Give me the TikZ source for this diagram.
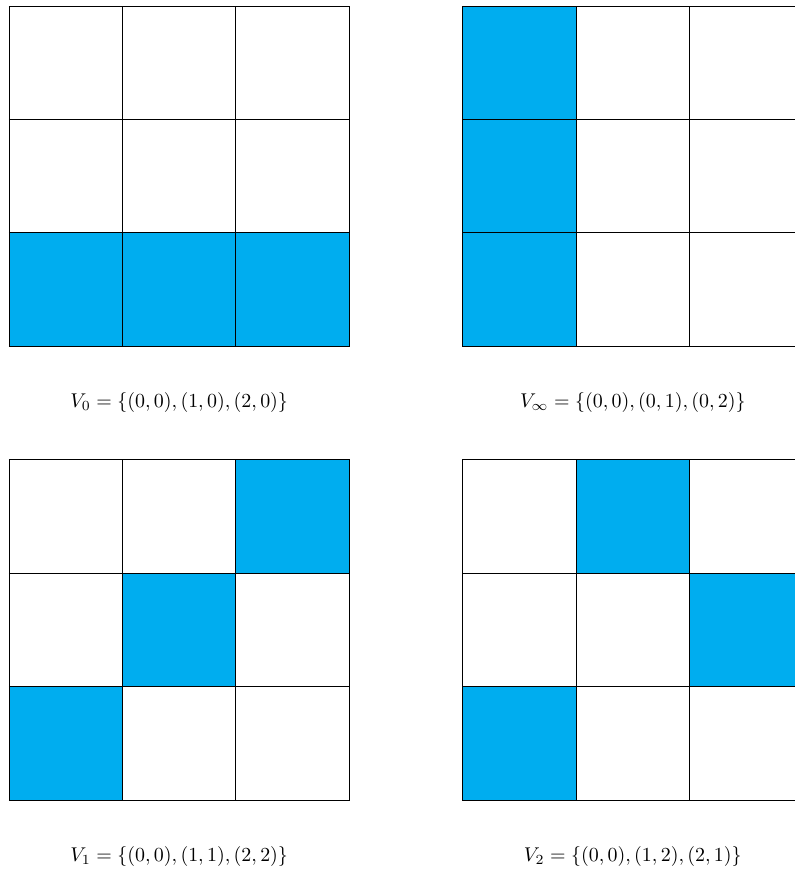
\documentclass[tikz,border=0pt]{standalone}
\usepackage{amsmath}
\usepackage{amssymb}
\definecolor{cellblue}{RGB}{0,173,239}

\begin{document}
\begin{tikzpicture}[x=2cm,y=2cm]
  \useasboundingbox (-0.079,-0.626) rectangle (6.925,7.053);
  % shaded cells
  \fill[cellblue] (0,4) rectangle (3,5);
  \fill[cellblue] (4,4) rectangle (5,7);
  \fill[cellblue] (0,0) rectangle (1,1); \fill[cellblue] (1,1) rectangle (2,2); \fill[cellblue] (2,2) rectangle (3,3);
  \fill[cellblue] (4,0) rectangle (5,1); \fill[cellblue] (5,2) rectangle (6,3); \fill[cellblue] (6,1) rectangle (7,2);
  % grids
  \foreach \x/\y in {0/4,4/4,0/0,4/0}
    \draw[step=2cm] (\x,\y) grid ++(3,3) (\x,\y) rectangle ++(3,3);
  \node (vzero) at (1.5,3.5) {$V_0 = \{(0,0),(1,0),(2,0)\}$};
  \node (vinf) at (5.5,3.5) {$V_\infty = \{(0,0),(0,1),(0,2)\}$};
  \node (vone) at (1.5,-0.5) {$V_1 = \{(0,0),(1,1),(2,2)\}$};
  \node (vtwo) at (5.5,-0.5) {$V_2 = \{(0,0),(1,2),(2,1)\}$};
\end{tikzpicture}
\end{document}
